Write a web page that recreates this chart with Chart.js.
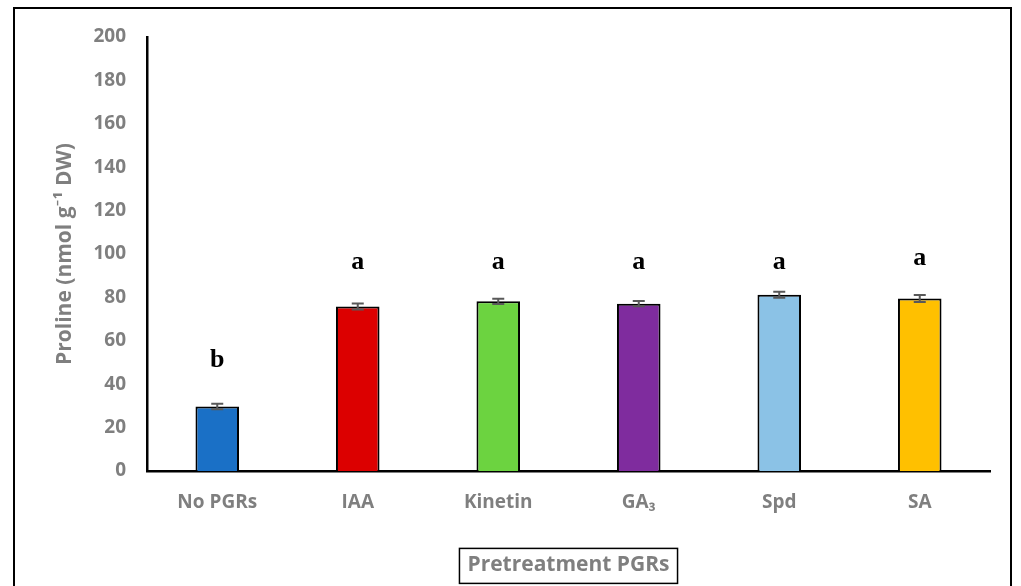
<!DOCTYPE html>
<html>
<head>
<meta charset="utf-8">
<script src="https://cdn.jsdelivr.net/npm/chart.js@4"></script>
<style>
  html, body { margin: 0; padding: 0; background: #fff; }
  #wrap { width: 1021px; height: 586px; }
</style>
</head>
<body>
<div id="wrap"><canvas id="prolineChart"></canvas></div>
<script>
// chart data
const categories = ["No PGRs", "IAA", "Kinetin", "GA\u2083", "Spd", "SA"];
const prolineMeans = [29.7, 75.8, 78.2, 77.1, 81.2, 79.5];
const prolineErrors = [1.3, 1.4, 1.2, 1.2, 1.4, 1.6];
const groupLetters = ["b", "a", "a", "a", "a", "a"];
const letterLevels = [51, 96, 96, 96, 96, 98];
const barColors = ["#1a70c6", "#dc0000", "#6cd340", "#7f2c9e", "#8bc2e6", "#ffc000"];

const greyText = "#7f7f7f";
const axisFont = "'Open Sans', Lato, sans-serif";

// error bars, letters, frame and the boxed x title
const extrasPlugin = {
  id: "extras",
  afterDatasetsDraw(chart) {
    const ctx = chart.ctx;
    const x = chart.scales.x, y = chart.scales.y;
    ctx.save();
    ctx.strokeStyle = "#595959";
    ctx.lineWidth = 2;
    prolineMeans.forEach((v, i) => {
      const px = x.getPixelForValue(i);
      const top = y.getPixelForValue(v + prolineErrors[i]);
      const bot = y.getPixelForValue(v - prolineErrors[i]);
      ctx.beginPath();
      ctx.moveTo(px, top); ctx.lineTo(px, bot);
      ctx.moveTo(px - 6, top); ctx.lineTo(px + 6, top);
      ctx.moveTo(px - 6, bot); ctx.lineTo(px + 6, bot);
      ctx.stroke();
    });
    ctx.fillStyle = "#000";
    ctx.font = "bold 26px 'Liberation Serif', serif";
    ctx.textAlign = "center";
    ctx.textBaseline = "middle";
    groupLetters.forEach((t, i) => {
      ctx.fillText(t, x.getPixelForValue(i), y.getPixelForValue(letterLevels[i]));
    });
    ctx.restore();
  },
  afterDraw(chart) {
    const ctx = chart.ctx;
    const x = chart.scales.x;
    const t = x.options.title;
    ctx.save();
    // outer frame
    ctx.strokeStyle = "#000";
    ctx.lineWidth = 2;
    ctx.strokeRect(14, 8, 997, 600);
    // box around x axis title
    ctx.font = "bold " + t.font.size + "px " + axisFont;
    const w = ctx.measureText(t.text).width;
    const cy = x.bottom - t.font.size * 1.2 / 2 - t.padding.bottom;
    const cx = (chart.chartArea.left + chart.chartArea.right) / 2;
    ctx.lineWidth = 1.5;
    ctx.strokeRect(cx - w / 2 - 8, cy - 17, w + 16, 35);
    ctx.restore();
  }
};

new Chart(document.getElementById("prolineChart"), {
  type: "bar",
  data: {
    labels: categories,
    datasets: [{
      data: prolineMeans,
      backgroundColor: barColors,
      borderColor: "#000",
      borderWidth: 2,
      barPercentage: 0.31,
      categoryPercentage: 1
    }]
  },
  options: {
    responsive: true,
    maintainAspectRatio: false,
    animation: false,
    layout: { padding: { left: 20, right: 31, top: 37, bottom: 0 } },
    plugins: {
      legend: { display: false },
      tooltip: { enabled: false }
    },
    scales: {
      x: {
        grid: { display: false, drawTicks: false },
        border: { display: true, color: "#000", width: 2.5 },
        ticks: { color: greyText, padding: 20, font: { family: axisFont, size: 19, weight: "bold" } },
        title: {
          display: true,
          text: "Pretreatment PGRs",
          color: greyText,
          font: { family: axisFont, size: 21, weight: "bold" },
          padding: { top: 0, bottom: 8 }
        },
        afterFit(scale) { scale.height = 115; }
      },
      y: {
        min: 0,
        max: 200,
        grid: { display: false, drawTicks: false },
        border: { display: true, color: "#000", width: 2.5 },
        ticks: { stepSize: 20, color: greyText, padding: 21, font: { family: axisFont, size: 19, weight: "bold" } },
        title: {
          display: true,
          text: "Proline (nmol g\u207B\u00B9 DW)",
          color: greyText,
          font: { family: axisFont, size: 21, weight: "bold" },
          padding: { top: 32, bottom: 0 }
        },
        afterFit(scale) { scale.width = 127; }
      }
    }
  },
  plugins: [extrasPlugin]
});
</script>
</body>
</html>
